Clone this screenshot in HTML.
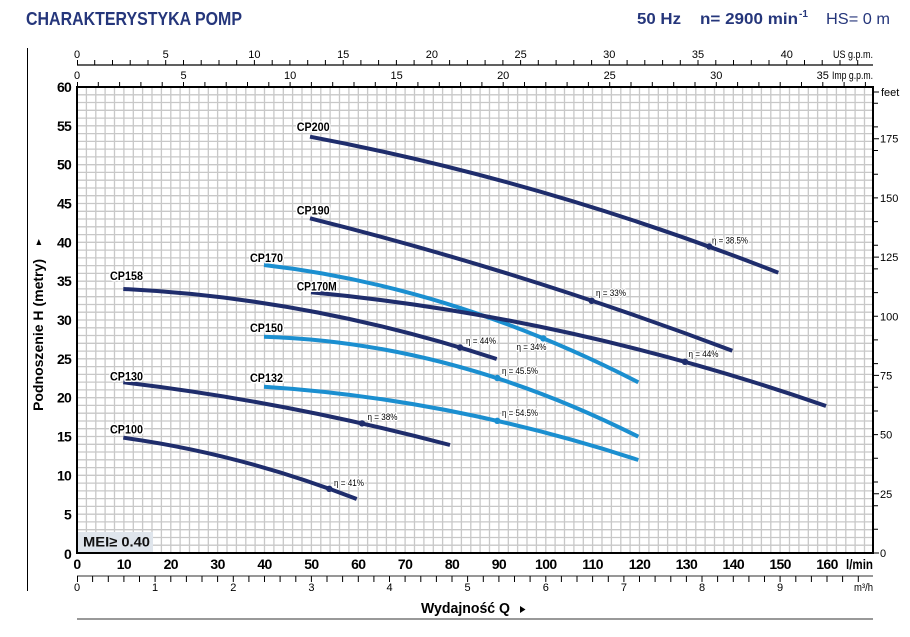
<!DOCTYPE html>
<html><head><meta charset="utf-8"><style>
html,body{margin:0;padding:0;background:#fff;}
svg{display:block;}
text{font-family:"Liberation Sans",Arial,sans-serif;}
</style></head><body>
<svg width="910" height="637" viewBox="0 0 910 637" xmlns="http://www.w3.org/2000/svg">
<rect width="910" height="637" fill="#fff"/>
<!-- header -->
<text x="26" y="25" font-size="18.5" font-weight="bold" fill="#25367b" textLength="216" lengthAdjust="spacingAndGlyphs">CHARAKTERYSTYKA POMP</text>
<text x="637" y="24" font-size="16" font-weight="bold" fill="#25367b" textLength="44" lengthAdjust="spacingAndGlyphs">50 Hz</text>
<text x="700" y="24" font-size="16" font-weight="bold" fill="#25367b" textLength="98" lengthAdjust="spacingAndGlyphs">n= 2900 min</text>
<text x="799" y="17" font-size="10" font-weight="bold" fill="#25367b">-1</text>
<text x="826" y="24" font-size="16" fill="#25367b" textLength="64" lengthAdjust="spacingAndGlyphs">HS= 0 m</text>
<!-- left frame line -->
<line x1="27.5" y1="48" x2="27.5" y2="591" stroke="#000" stroke-width="1"/>
<!-- grid -->
<path stroke="#c8c8c8" stroke-width="1.3" fill="none" d="M86.4 87V553M95.8 87V553M105.1 87V553M114.5 87V553M123.9 87V553M133.3 87V553M142.6 87V553M152 87V553M161.4 87V553M170.8 87V553M180.1 87V553M189.5 87V553M198.9 87V553M208.3 87V553M217.6 87V553M227 87V553M236.4 87V553M245.8 87V553M255.1 87V553M264.5 87V553M273.9 87V553M283.3 87V553M292.6 87V553M302 87V553M311.4 87V553M320.8 87V553M330.1 87V553M339.5 87V553M348.9 87V553M358.3 87V553M367.6 87V553M377 87V553M386.4 87V553M395.8 87V553M405.1 87V553M414.5 87V553M423.9 87V553M433.3 87V553M442.6 87V553M452 87V553M461.4 87V553M470.8 87V553M480.1 87V553M489.5 87V553M498.9 87V553M508.3 87V553M517.6 87V553M527 87V553M536.4 87V553M545.8 87V553M555.1 87V553M564.5 87V553M573.9 87V553M583.3 87V553M592.6 87V553M602 87V553M611.4 87V553M620.8 87V553M630.1 87V553M639.5 87V553M648.9 87V553M658.3 87V553M667.6 87V553M677 87V553M686.4 87V553M695.8 87V553M705.1 87V553M714.5 87V553M723.9 87V553M733.3 87V553M742.6 87V553M752 87V553M761.4 87V553M770.8 87V553M780.1 87V553M789.5 87V553M798.9 87V553M808.3 87V553M817.6 87V553M827 87V553M836.4 87V553M845.8 87V553M855.1 87V553M864.5 87V553
M77 545.2H873M77 537.5H873M77 529.7H873M77 521.9H873M77 514.2H873M77 506.4H873M77 498.6H873M77 490.9H873M77 483.1H873M77 475.3H873M77 467.6H873M77 459.8H873M77 452H873M77 444.3H873M77 436.5H873M77 428.7H873M77 421H873M77 413.2H873M77 405.4H873M77 397.7H873M77 389.9H873M77 382.1H873M77 374.4H873M77 366.6H873M77 358.8H873M77 351.1H873M77 343.3H873M77 335.5H873M77 327.8H873M77 320H873M77 312.2H873M77 304.5H873M77 296.7H873M77 288.9H873M77 281.2H873M77 273.4H873M77 265.6H873M77 257.9H873M77 250.1H873M77 242.3H873M77 234.6H873M77 226.8H873M77 219H873M77 211.3H873M77 203.5H873M77 195.7H873M77 188H873M77 180.2H873M77 172.4H873M77 164.7H873M77 156.9H873M77 149.1H873M77 141.4H873M77 133.6H873M77 125.8H873M77 118.1H873M77 110.3H873M77 102.5H873M77 94.8H873"/>
<!-- plot border -->
<rect x="77" y="87" width="796" height="466" fill="none" stroke="#000" stroke-width="2"/>

<!-- top US gpm axis -->
<line x1="77" y1="65" x2="873" y2="65" stroke="#000" stroke-width="1.3"/>
<path stroke="#000" stroke-width="1" d="M77.5 60V65M94.7 60V65M112.5 60V65M130.2 60V65M148 60V65M165.7 60V65M183.5 60V65M201.2 60V65M219 60V65M236.7 60V65M254.4 60V65M272.2 60V65M289.9 60V65M307.7 60V65M325.4 60V65M343.2 60V65M360.9 60V65M378.6 60V65M396.4 60V65M414.1 60V65M431.9 60V65M449.6 60V65M467.4 60V65M485.1 60V65M502.9 60V65M520.6 60V65M538.3 60V65M556.1 60V65M573.8 60V65M591.6 60V65M609.3 60V65M627.1 60V65M644.8 60V65M662.6 60V65M680.3 60V65M698 60V65M715.8 60V65M733.5 60V65M751.3 60V65M769 60V65M786.8 60V65M804.5 60V65M822.2 60V65M840 60V65M857.7 60V65"/>
<g font-size="11" text-anchor="middle" fill="#000">
<text x="77" y="58">0</text><text x="165.7" y="58">5</text><text x="254.4" y="58">10</text><text x="343.2" y="58">15</text><text x="431.9" y="58">20</text><text x="520.6" y="58">25</text><text x="609.3" y="58">30</text><text x="698" y="58">35</text><text x="786.8" y="58">40</text>
</g>
<text x="873" y="58" font-size="11" text-anchor="end" textLength="40" lengthAdjust="spacingAndGlyphs">US g.p.m.</text>
<!-- Imp gpm axis -->
<path stroke="#000" stroke-width="1" d="M77.5 82V87M98.3 82V87M119.6 82V87M140.9 82V87M162.2 82V87M183.5 82V87M204.9 82V87M226.2 82V87M247.5 82V87M268.8 82V87M290.1 82V87M311.4 82V87M332.7 82V87M354 82V87M375.3 82V87M396.6 82V87M417.9 82V87M439.3 82V87M460.6 82V87M481.9 82V87M503.2 82V87M524.5 82V87M545.8 82V87M567.1 82V87M588.4 82V87M609.7 82V87M631 82V87M652.3 82V87M673.7 82V87M695 82V87M716.3 82V87M737.6 82V87M758.9 82V87M780.2 82V87M801.5 82V87M822.8 82V87M844.1 82V87M865.4 82V87"/>
<g font-size="11" text-anchor="middle" fill="#000">
<text x="77" y="79">0</text><text x="183.5" y="79">5</text><text x="290.1" y="79">10</text><text x="396.6" y="79">15</text><text x="503.2" y="79">20</text><text x="609.7" y="79">25</text><text x="716.3" y="79">30</text><text x="822.8" y="79">35</text>
</g>
<text x="873" y="79" font-size="11" text-anchor="end" textLength="41" lengthAdjust="spacingAndGlyphs">Imp g.p.m.</text>

<!-- left y labels -->
<g font-size="14" font-weight="bold" text-anchor="end" fill="#000" letter-spacing="-0.8">
<text x="71" y="559">0</text><text x="71" y="519.5">5</text><text x="71" y="480.5">10</text><text x="71" y="441.5">15</text><text x="71" y="402.7">20</text><text x="71" y="363.8">25</text><text x="71" y="325">30</text><text x="71" y="286.2">35</text><text x="71" y="247.3">40</text><text x="71" y="208.5">45</text><text x="71" y="169.7">50</text><text x="71" y="130.8">55</text><text x="71" y="92">60</text>
</g>
<text transform="translate(43,411) rotate(-90)" x="0" y="0" font-size="13.5" font-weight="bold" textLength="152" lengthAdjust="spacingAndGlyphs">Podnoszenie H (metry)</text>
<polygon points="38.8,239 36.3,245 41.3,245" fill="#000"/>

<!-- right feet axis -->
<path stroke="#000" stroke-width="1" d="M873 553H879M873 529.3H878M873 505.7H878M873 482H878M873 458.3H878M873 434.6H878M873 411H878M873 387.3H878M873 363.6H878M873 339.9H878M873 316.3H878M873 292.6H878M873 268.9H878M873 245.2H878M873 221.6H878M873 197.9H878M873 174.2H878M873 150.5H878M873 126.9H878M873 103.2H878M873 493.8H879M873 375.4H879M873 257.1H879M873 138.7H879M873 92H879"/>
<g font-size="11" fill="#000">
<text x="880" y="557">0</text><text x="880" y="497.8">25</text><text x="880" y="438.6">50</text><text x="880" y="379.4">75</text><text x="880" y="320.3">100</text><text x="880" y="261.1">125</text><text x="880" y="201.9">150</text><text x="880" y="142.7">175</text><text x="881" y="96">feet</text>
</g>

<!-- bottom l/min labels -->
<g font-size="14" font-weight="bold" text-anchor="middle" fill="#000" letter-spacing="-0.6">
<text x="77" y="569">0</text><text x="123.9" y="569">10</text><text x="170.8" y="569">20</text><text x="217.6" y="569">30</text><text x="264.5" y="569">40</text><text x="311.4" y="569">50</text><text x="358.3" y="569">60</text><text x="405.1" y="569">70</text><text x="452" y="569">80</text><text x="498.9" y="569">90</text><text x="545.8" y="569">100</text><text x="592.6" y="569">110</text><text x="639.5" y="569">120</text><text x="686.4" y="569">130</text><text x="733.3" y="569">140</text><text x="780.1" y="569">150</text><text x="827" y="569">160</text>
</g>
<text x="873" y="569" font-size="14" font-weight="bold" text-anchor="end" textLength="27" lengthAdjust="spacingAndGlyphs">l/min</text>

<!-- m3/h axis -->
<line x1="77" y1="576" x2="873" y2="576" stroke="#888" stroke-width="1.8"/>
<path stroke="#000" stroke-width="1" d="M77.5 576V582M92.6 576V582M108.3 576V582M123.9 576V582M139.5 576V582M155.1 576V582M170.8 576V582M186.4 576V582M202 576V582M217.6 576V582M233.3 576V582M248.9 576V582M264.5 576V582M280.1 576V582M295.8 576V582M311.4 576V582M327 576V582M342.6 576V582M358.3 576V582M373.9 576V582M389.5 576V582M405.1 576V582M420.8 576V582M436.4 576V582M452 576V582M467.6 576V582M483.3 576V582M498.9 576V582M514.5 576V582M530.1 576V582M545.8 576V582M561.4 576V582M577 576V582M592.6 576V582M608.3 576V582M623.9 576V582M639.5 576V582M655.1 576V582M670.8 576V582M686.4 576V582M702 576V582M717.6 576V582M733.3 576V582M748.9 576V582M764.5 576V582M780.1 576V582M795.8 576V582M811.4 576V582M827 576V582M842.6 576V582M858.3 576V582"/>
<g font-size="11" text-anchor="middle" fill="#000">
<text x="77" y="591">0</text><text x="155.1" y="591">1</text><text x="233.3" y="591">2</text><text x="311.4" y="591">3</text><text x="389.5" y="591">4</text><text x="467.6" y="591">5</text><text x="545.8" y="591">6</text><text x="623.9" y="591">7</text><text x="702" y="591">8</text><text x="780.1" y="591">9</text>
</g>
<text x="873" y="591" font-size="11" text-anchor="end" textLength="19" lengthAdjust="spacingAndGlyphs">m³/h</text>

<!-- Wydajnosc -->
<text x="421" y="613" font-size="14.5" font-weight="bold" textLength="89" lengthAdjust="spacingAndGlyphs">Wydajność Q</text>
<polygon points="520,606 520,613 525.5,609.5" fill="#000"/>
<line x1="77" y1="619" x2="873" y2="619" stroke="#999" stroke-width="2"/>

<!-- MEI box -->
<rect x="78" y="532" width="75" height="20" fill="#dfe5ec"/>
<text x="83" y="546.5" font-size="14" font-weight="bold" fill="#111" textLength="67" lengthAdjust="spacingAndGlyphs">MEI≥ 0.40</text>

<!-- curves -->
<g fill="none" stroke-width="4" stroke-linecap="butt">
<path stroke="#1f2d6c" d="M310 136.7Q544.2 180.9 778.3 272.7"/>
<path stroke="#1f2d6c" d="M310 218.3Q521.15 271.1 732.3 350.7"/>
<path stroke="#1b8fd0" d="M264 265Q451.15 286.35 638.3 382.3"/>
<path stroke="#1f2d6c" d="M311 292.3Q568.5 316.45 826 406"/>
<path stroke="#1f2d6c" d="M123.3 289Q310 298 496.7 359"/>
<path stroke="#1b8fd0" d="M264 336.7Q451.15 342.5 638.3 436.7"/>
<path stroke="#1b8fd0" d="M264 386.7Q451.15 398.85 638.3 460"/>
<path stroke="#1f2d6c" d="M123.3 382.3Q286.65 401.75 450 445"/>
<path stroke="#1f2d6c" d="M123.3 437.7Q240 453.65 356.7 499"/>
</g>
<!-- markers -->
<g>
<circle cx="709.3" cy="246.5" r="3.2" fill="#1f2d6c"/>
<circle cx="591.7" cy="300.8" r="3.2" fill="#1f2d6c"/>
<circle cx="685" cy="361.8" r="3.2" fill="#1f2d6c"/>
<circle cx="460" cy="347.5" r="3.2" fill="#1f2d6c"/>
<circle cx="543.3" cy="338.4" r="3.2" fill="#1b8fd0"/>
<circle cx="497.3" cy="378" r="3.2" fill="#1b8fd0"/>
<circle cx="497.3" cy="420.8" r="3.2" fill="#1b8fd0"/>
<circle cx="362" cy="423.4" r="3.2" fill="#1f2d6c"/>
<circle cx="329.3" cy="488.8" r="3.2" fill="#1f2d6c"/>
</g>
<!-- eta labels -->
<g font-size="9" fill="#000" stroke="#fff" stroke-width="2.5" paint-order="stroke" stroke-linejoin="round">
<text x="712" y="243.5" textLength="36" lengthAdjust="spacingAndGlyphs">η = 38.5%</text>
<text x="596" y="296" textLength="30" lengthAdjust="spacingAndGlyphs">η = 33%</text>
<text x="688.5" y="357" textLength="30" lengthAdjust="spacingAndGlyphs">η = 44%</text>
<text x="466" y="344" textLength="30" lengthAdjust="spacingAndGlyphs">η = 44%</text>
<text x="516.5" y="350" textLength="30" lengthAdjust="spacingAndGlyphs">η = 34%</text>
<text x="502" y="374" textLength="36" lengthAdjust="spacingAndGlyphs">η = 45.5%</text>
<text x="502" y="416" textLength="36" lengthAdjust="spacingAndGlyphs">η = 54.5%</text>
<text x="367.5" y="420" textLength="30" lengthAdjust="spacingAndGlyphs">η = 38%</text>
<text x="334" y="486" textLength="30" lengthAdjust="spacingAndGlyphs">η = 41%</text>
</g>
<!-- curve labels -->
<g font-size="12" font-weight="bold" fill="#000" stroke="#fff" stroke-width="3" paint-order="stroke" stroke-linejoin="round">
<text x="296.7" y="131" textLength="33" lengthAdjust="spacingAndGlyphs">CP200</text>
<text x="296.7" y="214.5" textLength="33" lengthAdjust="spacingAndGlyphs">CP190</text>
<text x="250" y="262" textLength="33" lengthAdjust="spacingAndGlyphs">CP170</text>
<text x="296.7" y="290.5" textLength="40" lengthAdjust="spacingAndGlyphs">CP170M</text>
<text x="110" y="280" textLength="33" lengthAdjust="spacingAndGlyphs">CP158</text>
<text x="250" y="332" textLength="33" lengthAdjust="spacingAndGlyphs">CP150</text>
<text x="110" y="380.5" textLength="33" lengthAdjust="spacingAndGlyphs">CP130</text>
<text x="250" y="382" textLength="33" lengthAdjust="spacingAndGlyphs">CP132</text>
<text x="110" y="433.5" textLength="33" lengthAdjust="spacingAndGlyphs">CP100</text>
</g>
</svg>
</body></html>
